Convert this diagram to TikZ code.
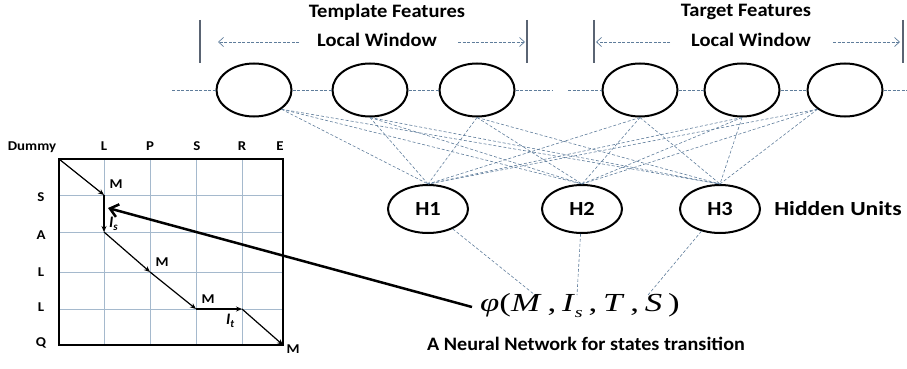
\documentclass[tikz,border=0pt]{standalone}
\usepackage{fontspec}
\usepackage{graphicx}
\usetikzlibrary{shapes.geometric,arrows.meta}
\newfontfamily\calib{Carlito}
\newfontfamily\tms{Liberation Serif}
\newcommand\wtxt[2][1.08]{\scalebox{#1}[1]{#2}}
\definecolor{netline}{RGB}{95,125,155}
\definecolor{gridline}{RGB}{165,185,205}
\definecolor{barline}{RGB}{90,100,115}
\tikzset{
  unit/.style={draw, ellipse, line width=2pt, minimum width=75pt, minimum height=53pt, inner sep=0pt},
  hidden/.style={draw, ellipse, line width=2pt, minimum width=80pt, minimum height=48pt, inner sep=0pt,
                 font=\calib\bfseries\fontsize{20}{22}\selectfont},
  label/.style={inner sep=0pt, font=\calib\bfseries\fontsize{19}{22}\selectfont},
  small/.style={inner sep=0pt, font=\calib\bfseries\fontsize{13.5}{15}\selectfont},
  link/.style={netline, line width=0.6pt, densely dashed},
  chain/.style={netline, line width=0.8pt, dash pattern=on 3pt off 1.5pt},
  bar/.style={barline, line width=1.5pt},
  span/.style={netline, line width=0.7pt, dash pattern=on 3pt off 1.5pt, -{Straight Barb[length=5pt,width=9pt]}},
  walk/.style={line width=1.2pt, -{Stealth[length=6pt,width=5pt]}},
}
\begin{document}
\begin{tikzpicture}[x=1pt, y=-1pt]
\useasboundingbox (0,0) rectangle (907,369);

% ---------- feature layer ----------
\node[unit] (e1) at (254,90) {};
\node[unit] (e2) at (370,90) {};
\node[unit] (e3) at (477,90) {};
\node[unit] (e4) at (640,90) {};
\node[unit] (e5) at (742,90) {};
\node[unit] (e6) at (845,90) {};

\coordinate (l0) at (172,90);
\coordinate (l1) at (552,90);
\coordinate (r0) at (568,90);
\coordinate (r1) at (907,90);
\draw[chain] (l0) -- (e1.west);
\draw[chain] (e1.east) -- (e2.west);
\draw[chain] (e2.east) -- (e3.west);
\draw[chain] (e3.east) -- (l1);
\draw[chain] (r0) -- (e4.west);
\draw[chain] (e4.east) -- (e5.west);
\draw[chain] (e5.east) -- (e6.west);
\draw[chain] (e6.east) -- (r1);

% window markers and titles
\coordinate (ta) at (200,20); \coordinate (tb) at (200,63);
\coordinate (tc) at (527,20); \coordinate (td) at (527,63);
\coordinate (ua) at (594,20); \coordinate (ub) at (594,63);
\coordinate (uc) at (903,20); \coordinate (ud) at (903,63);
\draw[bar] (ta) -- (tb);
\draw[bar] (tc) -- (td);
\draw[bar] (ua) -- (ub);
\draw[bar] (uc) -- (ud);

\node[label] (tf) at (387,12) {\wtxt{Template Features}};
\node[label] (tw) at (377,40) {\wtxt{Local Window}};
\node[label] (gf) at (746,12) {\wtxt{Target Features}};
\node[label] (gw) at (751,40) {\wtxt{Local Window}};

\coordinate (ta1) at (218,42); \coordinate (tc1) at (525,42);
\coordinate (ua1) at (596,42); \coordinate (uc1) at (900,42);
\coordinate (ta0) at (299,42); \coordinate (tc0) at (458,42);
\coordinate (ua0) at (670,42); \coordinate (uc0) at (833,42);
\draw[span] (ta0) -- (ta1);
\draw[span] (tc0) -- (tc1);
\draw[span] (ua0) -- (ua1);
\draw[span] (uc0) -- (uc1);

% ---------- hidden layer ----------
\node[hidden] (h1) at (428,209) {\wtxt[1.12]{H1}};
\node[hidden] (h2) at (582,209) {\wtxt[1.12]{H2}};
\node[hidden] (h3) at (720,209) {\wtxt[1.12]{H3}};
\node[inner sep=0pt, font=\calib\bfseries\fontsize{20}{22}\selectfont] (hu) at (838,209) {\wtxt[1.18]{Hidden Units}};

\foreach \h in {h1,h2,h3}{
  \draw[link] (e1.-35) -- (\h.north);
  \draw[link] (e2.south) -- (\h.north);
  \draw[link] (e3.south) -- (\h.north);
  \draw[link] (e4.south) -- (\h.north);
  \draw[link] (e5.south) -- (\h.north);
  \draw[link] (e6.-145) -- (\h.north);
}

% ---------- output function ----------
\node[inner sep=0pt, anchor=base west, font=\tms\fontsize{26}{30}\selectfont] (phi) at (480,311)
  {\scalebox{1.34}[1]{\textit{φ}(\textit{M}\,,\,\textit{I}\raisebox{-6pt}{\fontsize{15}{16}\selectfont\textit{s}}\,,\,\textit{T}\,,\,\textit{S}\,)}};
\coordinate (p1) at (535,295);
\coordinate (p2) at (577,295);
\coordinate (p3) at (648,295);
\draw[link] (h1) -- (p1);
\draw[link] (h2) -- (p2);
\draw[link] (h3) -- (p3);
\node[label] (cap) at (586,344) {\wtxt[1.06]{A Neural Network for states transition}};

% ---------- alignment grid ----------
\foreach \x in {104,150,196,242}{ \draw[gridline, line width=0.8pt] (\x,160) -- (\x,344); }
\foreach \y in {195,232,272,309}{ \draw[gridline, line width=0.8pt] (60,\y) -- (282,\y); }
\draw[line width=2pt] (59,159) rectangle (283,345);

\node[small] (cd) at (32,147) {\wtxt[1.1]{Dummy}};
\node[small] (c1) at (104,146) {\wtxt[1.1]{L}};
\node[small] (c2) at (150,146) {\wtxt[1.1]{P}};
\node[small] (c3) at (197,146) {\wtxt[1.1]{S}};
\node[small] (c4) at (242,146) {\wtxt[1.1]{R}};
\node[small] (c5) at (280,146) {\wtxt[1.1]{E}};
\node[small] (r1l) at (41,197) {\wtxt[1.1]{S}};
\node[small] (r2l) at (41,235) {\wtxt[1.1]{A}};
\node[small] (r3l) at (41,272) {\wtxt[1.1]{L}};
\node[small] (r4l) at (41,307) {\wtxt[1.1]{L}};
\node[small] (r5l) at (41,343) {\wtxt[1.1]{Q}};

\coordinate (w0) at (59,159);
\coordinate (w1) at (104,195);
\coordinate (w2) at (104,232);
\coordinate (w3) at (150,272);
\coordinate (w4) at (196,309);
\coordinate (w5) at (242,309);
\coordinate (w6) at (283,345);
\draw[walk] (w0) -- (w1);
\draw[walk] (w1) -- (w2);
\draw[walk] (w2) -- (w3);
\draw[walk] (w3) -- (w4);
\draw[walk] (w4) -- (w5);
\draw[walk] (w5) -- (w6);

% pointer from the function to the insertion step
\coordinate (tip) at (108,208);
\coordinate (tail) at (472,307);
\draw[line width=2.5pt, -{Straight Barb[length=8pt,width=13pt]}] (tail) -- (tip);

\node[small] (m1) at (116,184) {\wtxt[1.1]{M}};
\node[small, anchor=west, font=\calib\bfseries\fontsize{16}{18}\selectfont] (is) at (109,224)
  {\textit{I}\raisebox{-3pt}{\fontsize{11}{12}\selectfont\textit{s}}};
\node[small] (m2) at (162,262) {\wtxt[1.1]{M}};
\node[small] (m3) at (208,299) {\wtxt[1.1]{M}};
\node[small, anchor=west, font=\calib\bfseries\fontsize{16}{18}\selectfont] (it) at (226,321)
  {\textit{I}\raisebox{-3pt}{\fontsize{11}{12}\selectfont\textit{t}}};
\node[small] (m4) at (293,349) {\wtxt[1.1]{M}};
\end{tikzpicture}
\end{document}
